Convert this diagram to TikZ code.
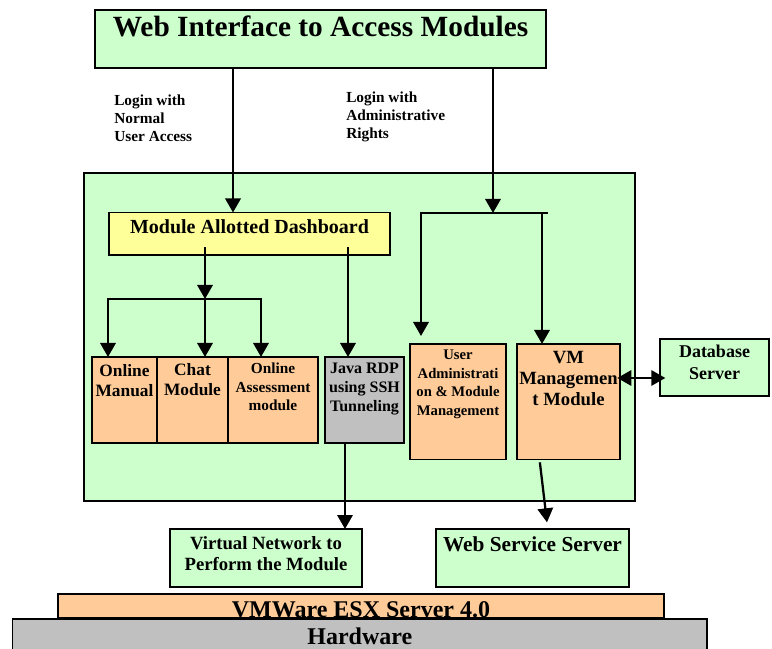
\documentclass[tikz,border=0pt]{standalone}
\usepackage{fontspec}
\setmainfont{Liberation Serif}
\usepackage{tikz}
\usetikzlibrary{arrows.meta,positioning}
\definecolor{boxgreen}{HTML}{CCFFCC}
\definecolor{boxyellow}{HTML}{FFFF99}
\definecolor{boxpeach}{HTML}{FFCC99}
\definecolor{boxgray}{HTML}{C0C0C0}
\newcommand{\fnt}[2]{\bfseries\fontsize{#1}{#2}\selectfont}
\tikzset{
  box/.style={draw, line width=1.4pt, inner sep=0pt, outer sep=0pt, anchor=north west}, % plain frame
  greenbox/.style={box, fill=boxgreen},
  peachbox/.style={box, fill=boxpeach},
  graybox/.style={box, fill=boxgray},
  dashbox/.style={box, fill=boxyellow},
  intext/.style n args={3}{label={[anchor=north, align=center, inner sep=0pt, yshift=-#1, font=#2]north:{#3}}},
  note/.style={anchor=north west, align=left, inner sep=0pt, font=\fnt{11.5}{13.3}},
  link/.style={line width=1.7pt, line cap=rect},
  flow/.style={link, -{Triangle[length=10.5pt,width=11.5pt]}},
  dbl/.style={line width=1.7pt, {Triangle[length=10.5pt,width=11.5pt]}-{Triangle[length=10.5pt,width=11.5pt]}}
}

\begin{document}
\begin{tikzpicture}[x=0.75pt, y=-0.75pt]
    \useasboundingbox (0,0) rectangle (772,649);
    \clip (0,0) rectangle (772,649);

    % Nodes
    \node[greenbox, minimum width=338.25pt, minimum height=43.5pt, intext={4pt}{\fnt{22}{26}}{Web Interface to Access Modules}] (web) at (95,10) {};
    \node[note] (userlbl) at (114,95) {Login with\\Normal\\User Access};
    \node[note] (adminlbl) at (346,92) {Login with\\Administrative\\Rights};

    \node[greenbox, minimum width=413.25pt, minimum height=246pt] (lms) at (84,173) {};
    \node[dashbox, minimum width=210.75pt, minimum height=31.9pt, intext={5.5pt}{\fnt{15}{18}}{Module Allotted Dashboard}] (dash) at (109,212.5) {};

    \node[peachbox, minimum width=48.75pt, minimum height=64.5pt, intext={5.5pt}{\fnt{13}{15}}{Online\\Manual}] (manual) at (92,357) {};
    \node[peachbox, minimum width=53.25pt, minimum height=64.5pt, right=0pt of manual, intext={5pt}{\fnt{13}{15}}{Chat\\Module}] (chat) {};
    \node[peachbox, minimum width=67.5pt, minimum height=64.5pt, right=0pt of chat, intext={4.5pt}{\fnt{11.5}{13.7}}{Online\\Assessment\\module}] (assess) {};
    \node[graybox, minimum width=59.25pt, minimum height=64.5pt, intext={4.5pt}{\fnt{12}{14}}{Java RDP\\using SSH\\Tunneling}] (java) at (325,357) {};
    \node[peachbox, minimum width=72pt, minimum height=86.6pt, intext={4.5pt}{\fnt{11}{13.9}}{User\\Administrati\\on \& Module\\Management}] (useradm) at (410,344) {};
    \node[peachbox, minimum width=77.25pt, minimum height=86.6pt, intext={5pt}{\fnt{14}{16}}{VM\\Managemen\\t Module}] (vm) at (517,344) {};
    \node[greenbox, minimum width=81.75pt, minimum height=42.75pt, intext={4.3pt}{\fnt{13.5}{16.2}}{Database\\Server}] (db) at (660,339) {};

    \node[greenbox, minimum width=144pt, minimum height=43.5pt, intext={5.5pt}{\fnt{14}{15.75}}{Virtual Network to\\Perform the Module}] (virtual) at (170,529) {};
    \node[greenbox, minimum width=144.75pt, minimum height=43.5pt, intext={5.5pt}{\fnt{16}{19}}{Web Service Server}] (websvc) at (436,529) {};
    \node[peachbox, minimum width=454.5pt, minimum height=17.6pt, intext={5.2pt}{\fnt{18}{20}}{VMWare ESX Server 4.0}] (esx) at (58,594) {};
    \node[graybox, minimum width=520.9pt, minimum height=30.75pt, intext={6.2pt}{\fnt{18}{20}}{Hardware}] (hw) at (12.5,619) {};

    % Branch points
    \coordinate (userx) at (233,0);
    \coordinate (adminx) at (493,0);
    \coordinate (barL) at (421,213);
    \coordinate (barR) at (547,213);
    \coordinate (vmin) at (542,213);
    \coordinate (split) at (205,299);
    \coordinate (brL) at (108,299);
    \coordinate (brR) at (261,299);
    \coordinate (javax) at (348,0);
    \coordinate (javaout) at (345,0);
    \coordinate (vmout) at (540,0);
    \coordinate (wsin) at (547,0);
    \coordinate (dbrow) at (0,378);

    % Edges
    \draw[flow] (web.south -| userx) -- (dash.north -| userx);
    \draw[flow] (web.south -| adminx) -- (adminx |- barL);
    \draw[link] (barL) -- (barR);
    \draw[flow, shorten >=6pt] (barL) -- (barL |- useradm.north);
    \draw[flow] (vmin) -- (vmin |- vm.north);

    \draw[flow] ([yshift=5pt]dash.south -| split) -- (split);
    \draw[link] (brL) -- (brR);
    \draw[flow] (brL) -- (brL |- manual.north);
    \draw[flow] (split) -- (split |- chat.north);
    \draw[flow] (brR) -- (brR |- assess.north);
    \draw[flow] ([yshift=5pt]dash.south -| javax) -- (java.north -| javax);

    \draw[flow] (java.south -| javaout) -- (virtual.north -| javaout);
    \draw[flow] ([yshift=-3pt]vm.south -| vmout) -- ([yshift=5pt]websvc.north -| wsin);
    \draw[dbl, shorten >=-4pt, shorten <=-2pt] (vm.east |- dbrow) -- (db.west |- dbrow);

\end{tikzpicture}
\end{document}
